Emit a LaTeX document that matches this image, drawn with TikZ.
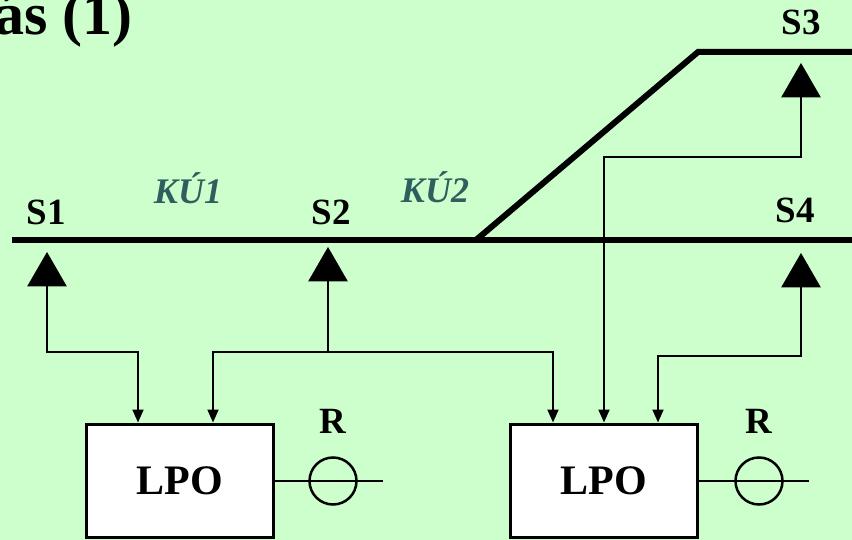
\documentclass[tikz,border=0pt]{standalone}
\usepackage{fontspec}
\setmainfont{Liberation Serif}
\usetikzlibrary{arrows.meta,shapes.geometric}
\definecolor{nen}{RGB}{204,255,204}
\definecolor{chu}{RGB}{46,94,94}
\tikzset{
	duong/.style={line width=6pt},
	day/.style={line width=2pt,-{Triangle[length=13pt,width=11pt]}},
	den/.style={regular polygon,regular polygon sides=3,fill=black,minimum size=46pt,inner sep=0pt,outer sep=0pt,anchor=corner 1},
	hop/.style={draw,line width=3pt,fill=white,minimum width=187pt,minimum height=113pt,inner sep=0pt,font=\fontsize{42}{42}\selectfont\bfseries},
	nhan/.style={font=\fontsize{37}{37}\selectfont\bfseries,anchor=base,inner sep=0pt},
	ku/.style={nhan,text=chu,font=\fontsize{36}{36}\selectfont\bfseries\itshape}
}
\begin{document}
\begin{tikzpicture}[x=1pt,y=-1pt]
	\fill[nen] (0,0) rectangle (852,540);
	\useasboundingbox (0,0) rectangle (852,540);
	\node[font=\fontsize{60}{60}\selectfont\bfseries,anchor=base east,inner sep=0pt] (tieude) at (133,35) {ás (1)};
	% duong ray
	\draw[duong] (12,240) -- (852,240);
	\draw[duong] (476,240) -- (698,52) -- (852,52);
	% tin hieu
	\node[den] (s1) at (47,252) {};
	\node[den] (s2) at (328,247) {};
	\node[den] (s3) at (801,63) {};
	\node[den] (s4) at (801,253) {};
	\node[nhan] (t1) at (46,225) {S1};
	\node[nhan] (t2) at (331,225) {S2};
	\node[nhan] (t3) at (801,35) {S3};
	\node[nhan] (t4) at (795,223) {S4};
	\node[ku] (ku1) at (188,204) {KÚ1};
	\node[ku] (ku2) at (435,203) {KÚ2};
	% khoi LPO
	\node[hop] (lpoA) at (179.5,480.5) {LPO};
	\node[hop] (lpoB) at (604,480.5) {LPO};
	\path
	(138,352) coordinate (a1)
	(213,352) coordinate (b1)
	(553,352) coordinate (b2)
	(604,157) coordinate (c1)
	(658,356) coordinate (d1);
	\draw[day] (s1.side 2) |- (a1) -- (a1 |- lpoA.north);
	\draw[day] (s2.side 2) |- (b1) -- (b1 |- lpoA.north);
	\draw[day] (s2.side 2 |- b2) -- (b2) -- (b2 |- lpoB.north);
	\draw[day] (s3.side 2) |- (c1) -- (c1 |- lpoB.north);
	\draw[day] (s4.side 2) |- (d1) -- (d1 |- lpoB.north);
	% R
	\foreach \k/\x in {A/333,B/759}{
		\node[draw,circle,line width=2.5pt,minimum size=47pt,inner sep=0pt] (r\k) at (\x,481) {};
		\node[nhan] (tr\k) at (\x,433) {R};
		\draw[line width=2pt] (lpo\k.east |- r\k) -- ([xshift=50pt]r\k.center);
	}
\end{tikzpicture}
\end{document}
